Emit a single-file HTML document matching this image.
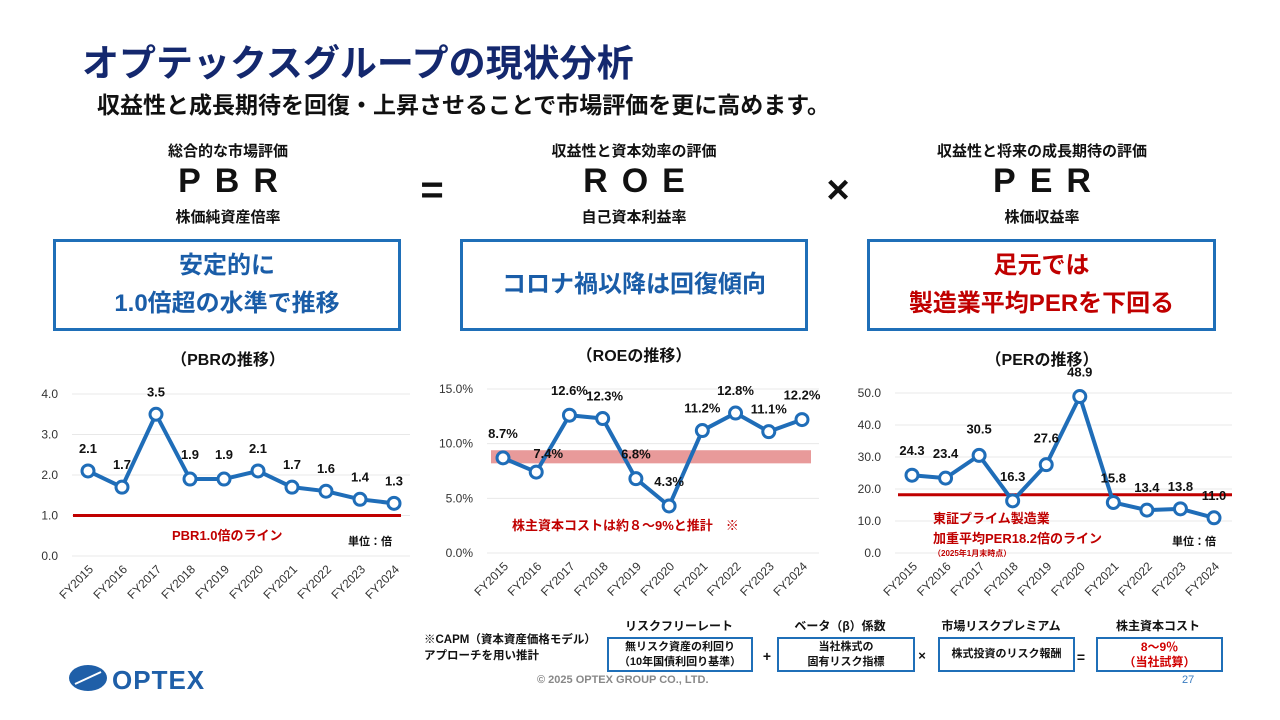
<!DOCTYPE html>
<html lang="ja"><head><meta charset="utf-8">
<style>
*{margin:0;padding:0;box-sizing:border-box}
body{width:1280px;height:720px;background:#fff;position:relative;overflow:hidden;font-family:"Liberation Sans","Noto Sans CJK JP",sans-serif;color:#111}
.a{position:absolute;white-space:nowrap}
.b{font-weight:bold}
.c{transform:translateX(-50%);text-align:center}
.box{position:absolute;border:3px solid #1f6fb8;display:flex;align-items:center;justify-content:center;text-align:center;font-weight:bold;font-size:24px;line-height:38px;color:#1a5da8}
.sb{position:absolute;border:2px solid #1f6fb8;display:flex;align-items:center;justify-content:center;text-align:center;font-weight:bold;font-size:11px;line-height:15px}
</style></head><body>
<div class="a b" style="left:82px;top:33px;font-size:37px;color:#14286e">オプテックスグループの現状分析</div>
<div class="a b" style="left:97px;top:86px;font-size:23px">収益性と成長期待を回復・上昇させることで市場評価を更に高めます。</div>

<div class="a b c" style="left:228px;top:140px;font-size:15px">総合的な市場評価</div>
<div class="a b c" style="left:228px;top:162px;font-size:34px;letter-spacing:14px;padding-left:14px">PBR</div>
<div class="a b c" style="left:228px;top:206px;font-size:15px">株価純資産倍率</div>
<div class="a b c" style="left:634px;top:140px;font-size:15px">収益性と資本効率の評価</div>
<div class="a b c" style="left:634px;top:162px;font-size:34px;letter-spacing:14px;padding-left:14px">ROE</div>
<div class="a b c" style="left:634px;top:206px;font-size:15px">自己資本利益率</div>
<div class="a b c" style="left:1042px;top:140px;font-size:15px">収益性と将来の成長期待の評価</div>
<div class="a b c" style="left:1042px;top:162px;font-size:34px;letter-spacing:14px;padding-left:14px">PER</div>
<div class="a b c" style="left:1042px;top:206px;font-size:15px">株価収益率</div>
<div class="a b c" style="left:432px;top:168px;font-size:40px">=</div>
<div class="a b c" style="left:838px;top:168px;font-size:40px">×</div>

<div class="box" style="left:53px;top:239px;width:348px;height:92px">安定的に<br>1.0倍超の水準で推移</div>
<div class="box" style="left:460px;top:239px;width:348px;height:92px">コロナ禍以降は回復傾向</div>
<div class="box" style="left:867px;top:239px;width:349px;height:92px;color:#c00000">足元では<br>製造業平均PERを下回る</div>

<div class="a b c" style="left:228px;top:346px;font-size:16px">（PBRの推移）</div>
<div class="a b c" style="left:634px;top:342px;font-size:16px">（ROEの推移）</div>
<div class="a b c" style="left:1042px;top:346px;font-size:16px">（PERの推移）</div>

<svg id="charts" class="a" style="left:0;top:0" width="1280" height="720"></svg>

<div class="a b" style="left:424px;top:632px;font-size:11.5px;line-height:16px">※CAPM（資本資産価格モデル）<br>アプローチを用い推計</div>
<div class="a b c" style="left:679px;top:617px;font-size:12px">リスクフリーレート</div>
<div class="a b c" style="left:840px;top:617px;font-size:12px">ベータ（β）係数</div>
<div class="a b c" style="left:1001px;top:617px;font-size:12px">市場リスクプレミアム</div>
<div class="a b c" style="left:1158px;top:617px;font-size:12px">株主資本コスト</div>
<div class="sb" style="left:607px;top:637px;width:146px;height:35px">無リスク資産の利回り<br>（10年国債利回り基準）</div>
<div class="a b c" style="left:767px;top:648px;font-size:14px">+</div>
<div class="sb" style="left:777px;top:637px;width:138px;height:35px">当社株式の<br>固有リスク指標</div>
<div class="a b c" style="left:922px;top:648px;font-size:13px">×</div>
<div class="sb" style="left:938px;top:637px;width:137px;height:35px">株式投資のリスク報酬</div>
<div class="a b c" style="left:1081px;top:649px;font-size:14px">=</div>
<div class="sb" style="left:1096px;top:637px;width:127px;height:35px;color:#d00000;font-size:12px">8～9％<br>（当社試算）</div>
<div class="a b" style="left:537px;top:674px;font-size:11px;color:#888">© 2025 OPTEX GROUP CO., LTD.</div>
<div class="a" style="left:1182px;top:674px;font-size:11px;color:#3a7cc0">27</div>

<div class="a" style="left:69px;top:662px;width:145px;height:33px">
<svg width="145" height="33"><ellipse cx="19" cy="16" rx="19" ry="13" fill="#1f5fa8"/><path d="M6 22 L32 10" stroke="#fff" stroke-width="2"/><text x="43" y="27" font-family="Liberation Sans,sans-serif" font-weight="bold" font-size="26" fill="#1f5fa8" letter-spacing="1">OPTEX</text></svg></div>

<script>
const years = ["FY2015","FY2016","FY2017","FY2018","FY2019","FY2020","FY2021","FY2022","FY2023","FY2024"];
const pbrValues = [2.1,1.7,3.5,1.9,1.9,2.1,1.7,1.6,1.4,1.3];
const pbrTicks = [0,1,2,3,4];
const pbrTickLabels = ["0.0","1.0","2.0","3.0","4.0"];
const pbrLineValue = 1.0;
const roeValues = [8.7,7.4,12.6,12.3,6.8,4.3,11.2,12.8,11.1,12.2];
const roeTicks = [0,5,10,15];
const roeTickLabels = ["0.0%","5.0%","10.0%","15.0%"];
const roeBand = [8.2,9.4];
const perValues = [24.3,23.4,30.5,16.3,27.6,48.9,15.8,13.4,13.8,11.0];
const perTicks = [0,10,20,30,40,50];
const perTickLabels = ["0.0","10.0","20.0","30.0","40.0","50.0"];
const perLineValue = 18.2;

const svg=document.getElementById('charts');
const NS='http://www.w3.org/2000/svg';
function mk(tag,attrs,parent){const e=document.createElementNS(NS,tag);for(const k in attrs)e.setAttribute(k,attrs[k]);(parent||svg).appendChild(e);return e;}
function txt(s,attrs){const t=mk('text',Object.assign({'font-family':'Liberation Sans, Noto Sans CJK JP, sans-serif'},attrs));t.textContent=s;return t;}

function chart(cfg){
  const g=mk('g',{});
  
  
  const y=v=>cfg.y0-(v-cfg.vmin)/(cfg.vmax-cfg.vmin)*(cfg.y0-cfg.y1);
  const x=i=>cfg.x0+i*(cfg.x1-cfg.x0)/(years.length-1);
  cfg.ticks.forEach((t,i)=>{
    const l=mk('line',{x1:cfg.gx0,x2:cfg.gx1,y1:y(t),y2:y(t),stroke:'#e8e8e8','stroke-width':1},g);
    
    
    const tl=txt(cfg.tickLabels[i],{x:cfg.gx0-14,y:y(t)+4,'text-anchor':'end','font-size':12,fill:'#333'});
    
    
    g.appendChild(tl);
  });
  if(cfg.band){
    const r=mk('rect',{x:cfg.bx0,width:cfg.bx1-cfg.bx0,y:y(cfg.band[1]),height:y(cfg.band[0])-y(cfg.band[1]),fill:'#e89a9a'},g);
    
    
  }
  if(cfg.line!=null){
    const l=mk('line',{x1:cfg.lx0,x2:cfg.lx1,y1:y(cfg.line),y2:y(cfg.line),stroke:'#c00000','stroke-width':3},g);
    
    
  }
  const pts=cfg.values.map((v,i)=>x(i)+','+y(v)).join(' ');
  const pl=mk('polyline',{points:pts,fill:'none',stroke:'#1f6db8','stroke-width':4,'stroke-linejoin':'round'},g);
  
  
  cfg.values.forEach((v,i)=>{
    const c=mk('circle',{cx:x(i),cy:y(v),r:6,fill:'#fff',stroke:'#1f6db8','stroke-width':3},g);
    
    
    const off=cfg.labelOff[i]||[0,-18];
    const t=txt(cfg.fmt(v),{x:x(i)+off[0],y:y(v)+off[1],'text-anchor':'middle','font-size':13,'font-weight':'bold',fill:'#111'});
    
    
    g.appendChild(t);
    const xl=txt(years[i],{x:0,y:0,'text-anchor':'end','font-size':12,fill:'#333',transform:`translate(${x(i)+6},${cfg.y0+14}) rotate(-45)`});
    
    
    g.appendChild(xl);
  });
}

chart({name:'pbr-chart',values:pbrValues,ticks:pbrTicks,tickLabels:pbrTickLabels,vmin:0,vmax:4,y0:556,y1:394,x0:88,x1:394,gx0:72,gx1:410,line:pbrLineValue,lx0:73,lx1:401,fmt:v=>v.toFixed(1),
  labelOff:[[0,-18],[0,-18],[0,-18],[0,-20],[0,-20],[0,-18],[0,-18],[0,-18],[0,-18],[0,-18]]});
chart({name:'roe-chart',values:roeValues,ticks:roeTicks,tickLabels:roeTickLabels,vmin:0,vmax:15,y0:553,y1:389,x0:503,x1:802,gx0:487,gx1:819,band:roeBand,bx0:491,bx1:811,fmt:v=>v.toFixed(1)+'%',
  labelOff:[[0,-20],[12,-14],[0,-20],[2,-18],[0,-20],[0,-20],[0,-18],[0,-18],[0,-18],[0,-20]]});
chart({name:'per-chart',values:perValues,ticks:perTicks,tickLabels:perTickLabels,vmin:0,vmax:50,y0:553,y1:393,x0:912,x1:1214,gx0:895,gx1:1232,line:perLineValue,lx0:898,lx1:1232,fmt:v=>v.toFixed(1),
  labelOff:[[0,-20],[0,-20],[0,-22],[0,-20],[0,-22],[0,-20],[0,-20],[0,-18],[0,-18],[0,-18]]});

function note(s,attrs,name){const t=txt(s,attrs);}
note('PBR1.0倍のライン',{x:172,y:540,'font-size':13,'font-weight':'bold',fill:'#c00000'},'pbr-line-label');
note('単位：倍',{x:348,y:545,'font-size':11,'font-weight':'bold',fill:'#111'},'pbr-unit');
note('株主資本コストは約８～9%と推計　※',{x:512,y:530,'font-size':13,'font-weight':'bold',fill:'#c00000'},'roe-band-label');
note('東証プライム製造業',{x:933,y:523,'font-size':13,'font-weight':'bold',fill:'#c00000'},'per-line-label-1');
note('加重平均PER18.2倍のライン',{x:933,y:543,'font-size':13,'font-weight':'bold',fill:'#c00000'},'per-line-label-2');
note('（2025年1月末時点）',{x:933,y:556,'font-size':8,'font-weight':'bold',fill:'#c00000'},'per-line-date');
note('単位：倍',{x:1172,y:545,'font-size':11,'font-weight':'bold',fill:'#111'},'per-unit');
</script>
</body></html>
